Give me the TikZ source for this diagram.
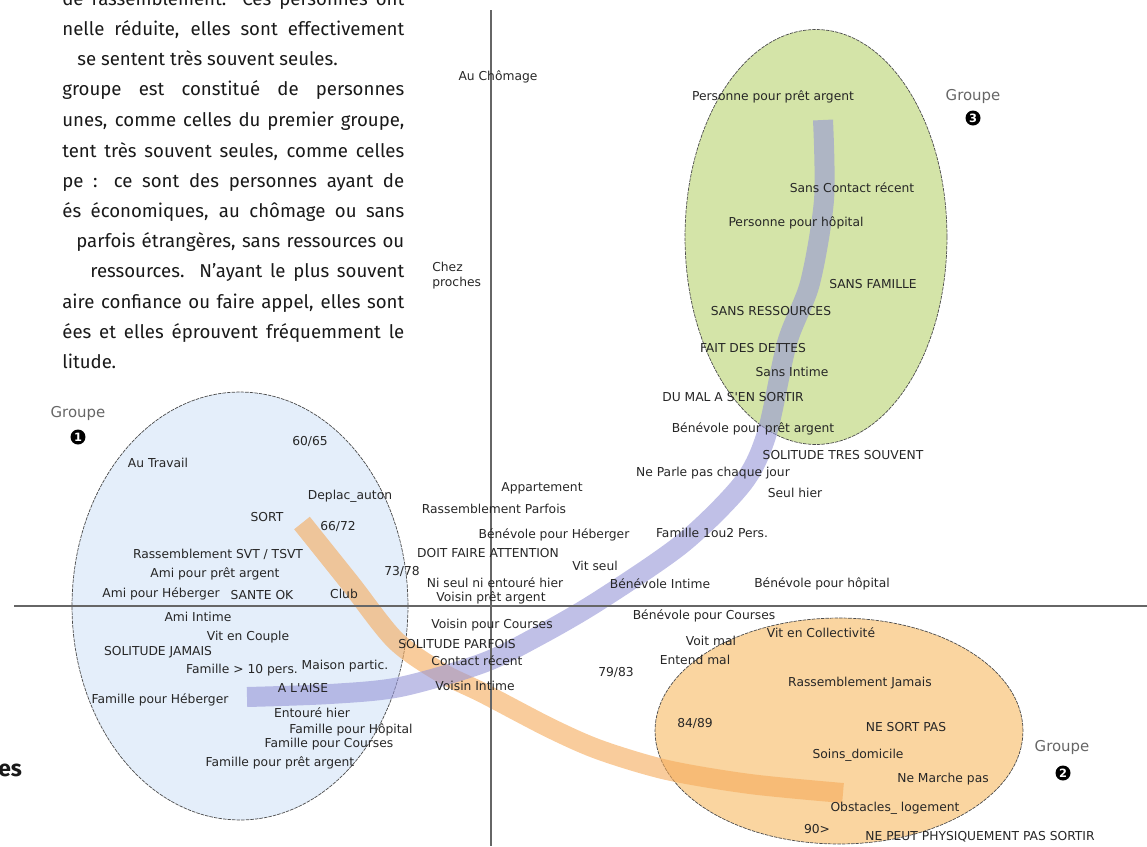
\documentclass[tikz,border=0pt]{standalone}
\usepackage{fontspec}
\newfontfamily\lblfont{DejaVu Sans}
\newfontfamily\txtfont{Fira Sans}
\usetikzlibrary{shapes.geometric}

\definecolor{bleuclair}{RGB}{228,238,250}
\definecolor{vertclair}{RGB}{212,228,168}
\definecolor{orangeclair}{RGB}{250,213,160}
\definecolor{bandeviolet}{RGB}{150,150,215}
\definecolor{bandeorange}{RGB}{245,170,90}

\begin{document}
\begin{tikzpicture}[x=0.02cm, y=-0.02cm,
    lbl/.style={font=\lblfont\fontsize{7}{8.5}\selectfont, text=black!85, inner sep=0pt},
    txt/.style={font=\txtfont\fontsize{10.6}{12}\selectfont, text=black!90, inner sep=0pt, anchor=base west},
    grp/.style={ellipse, draw=black!70, line width=0.4pt, dash pattern=on 2pt off 0.6pt, inner sep=0pt},
    band/.style={line width=0.4cm, opacity=0.6},
    axe/.style={draw=black!60, line width=1pt},
    titre/.style={font=\lblfont\fontsize{8.5}{10}\selectfont, text=black!60, inner sep=0pt},
    badge/.style={circle, fill=black, text=white, inner sep=0pt, minimum size=0.3cm,
        font=\lblfont\bfseries\fontsize{6.5}{6.5}\selectfont}]

    \useasboundingbox (0,0) rectangle (1147,846);

    % texte coupe a gauche
    \node[txt] (p0) at (62,5) {\makebox[6.84cm][s]{de rassemblement. Ces personnes ont}};
    \node[txt] (p1) at (62,35) {\makebox[6.84cm][s]{nelle réduite, elles sont effectivement}};
    \node[txt] (p2) at (77,65) {se sentent très souvent seules.};
    \node[txt] (p3) at (62,95) {\makebox[6.84cm][s]{groupe est constitué de personnes}};
    \node[txt] (p4) at (62,126) {\makebox[6.84cm][s]{unes, comme celles du premier groupe,}};
    \node[txt] (p5) at (62,157) {\makebox[6.84cm][s]{tent très souvent seules, comme celles}};
    \node[txt] (p6) at (62,187) {\makebox[6.84cm][s]{pe : ce sont des personnes ayant de}};
    \node[txt] (p7) at (62,217) {\makebox[6.84cm][s]{és économiques, au chômage ou sans}};
    \node[txt] (p8) at (76,247) {\makebox[6.56cm][s]{parfois étrangères, sans ressources ou}};
    \node[txt] (p9) at (90,277) {\makebox[6.28cm][s]{ressources. N’ayant le plus souvent}};
    \node[txt] (p10) at (62,308) {\makebox[6.84cm][s]{aire confiance ou faire appel, elles sont}};
    \node[txt] (p11) at (62,338) {\makebox[6.84cm][s]{ées et elles éprouvent fréquemment le}};
    \node[txt] (p12) at (62,368) {litude.};
    \node[txt, font=\txtfont\bfseries\fontsize{13}{15}\selectfont] (hd) at (-2,776) {es};

    % les trois groupes
    \node[grp, fill=bleuclair, minimum width=6.72cm, minimum height=8.56cm] (g1) at (240,606) {};
    \node[grp, fill=vertclair, minimum width=5.24cm, minimum height=8.3cm] (g3) at (816,237) {};
    \node[grp, fill=orangeclair, minimum width=7.36cm, minimum height=4.52cm] (g2) at (839,731) {};

    % bandes
    \draw[band, draw=bandeorange] plot[smooth] coordinates {(302,523) (350,583) (395,640) (440,672)
        (483,693) (550,728) (600,750) (667,770) (750,784) (843,793)};
    \draw[band, draw=bandeviolet] plot[smooth] coordinates {(247,697) (330,694) (400,687) (483,663)
        (540,635) (600,600) (683,543) (743,483) (767,433) (787,343) (810,283) (824,200) (823,120)};

    % axes
    \coordinate (ytop) at (491,10);
    \coordinate (ybot) at (491,846);
    \coordinate (xg) at (14,606);
    \coordinate (xd) at (1147,606);
    \draw[axe] (ytop) -- (ybot);
    \draw[axe] (xg) -- (xd);

    % titres des groupes
    \node[titre] (tg1) at (78,414) {Groupe};
    \node[badge] (b1) at (78,437) {1};
    \node[titre] (tg3) at (973,97) {Groupe};
    \node[badge] (b3) at (973,118) {3};
    \node[titre] (tg2) at (1062,748) {Groupe};
    \node[badge] (b2) at (1063,773) {2};

    % groupe 1
    \node[lbl] (trav) at (158,463) {Au Travail};
    \node[lbl] (a6065) at (310,441) {60/65};
    \node[lbl] (depl) at (350,496) {Deplac\_auton};
    \node[lbl] (sort) at (267,517) {SORT};
    \node[lbl] (a6672) at (338,526) {66/72};
    \node[lbl] (rsvt) at (218,554) {Rassemblement SVT / TSVT};
    \node[lbl] (amipret) at (215,574) {Ami pour prêt argent};
    \node[lbl] (amiheb) at (161,594) {Ami pour Héberger};
    \node[lbl] (sante) at (262,595) {SANTE OK};
    \node[lbl] (club) at (344,594) {Club};
    \node[lbl] (amiint) at (198,617) {Ami Intime};
    \node[lbl] (couple) at (248,637) {Vit en Couple};
    \node[lbl] (soljam) at (158,652) {SOLITUDE JAMAIS};
    \node[lbl] (fam10) at (242,670) {Famille > 10 pers.};
    \node[lbl] (maison) at (345,666) {Maison partic.};
    \node[lbl] (aise) at (303,688) {A L'AISE};
    \node[lbl] (famheb) at (160,700) {Famille pour Héberger};
    \node[lbl] (entoure) at (312,713) {Entouré hier};
    \node[lbl] (famhop) at (351,730) {Famille pour Hôpital};
    \node[lbl] (famcour) at (329,744) {Famille pour Courses};
    \node[lbl] (fampret) at (280,763) {Famille pour prêt argent};

    % centre
    \node[lbl] (chom) at (498,77) {Au Chômage};
    \node[lbl, align=left, anchor=west] (chez) at (432,276) {Chez\\proches};
    \node[lbl] (appart) at (542,488) {Appartement};
    \node[lbl] (rparf) at (494,509) {Rassemblement Parfois};
    \node[lbl] (benheb) at (554,535) {Bénévole pour Héberger};
    \node[lbl] (doit) at (488,553) {DOIT FAIRE ATTENTION};
    \node[lbl] (vitseul) at (595,566) {Vit seul};
    \node[lbl] (a7378) at (402,571) {73/78};
    \node[lbl] (niseul) at (495,583) {Ni seul ni entouré hier};
    \node[lbl] (voipret) at (491,598) {Voisin prêt argent};
    \node[lbl] (voicour) at (492,625) {Voisin pour Courses};
    \node[lbl] (solparf) at (457,644) {SOLITUDE PARFOIS};
    \node[lbl] (contact) at (477,661) {Contact récent};
    \node[lbl] (voiint) at (475,686) {Voisin Intime};
    \node[lbl] (a7983) at (616,672) {79/83};

    % groupe 3
    \node[lbl] (perspret) at (773,97) {Personne pour prêt argent};
    \node[lbl] (sanscont) at (852,188) {Sans Contact récent};
    \node[lbl] (pershop) at (796,223) {Personne pour hôpital};
    \node[lbl] (sansfam) at (873,284) {SANS FAMILLE};
    \node[lbl] (sansres) at (771,311) {SANS RESSOURCES};
    \node[lbl] (dettes) at (753,348) {FAIT DES DETTES};
    \node[lbl] (sansint) at (792,372) {Sans Intime};
    \node[lbl] (dumal) at (733,397) {DU MAL A S'EN SORTIR};
    \node[lbl] (benpret) at (753,429) {Bénévole pour prêt argent};
    \node[lbl] (soltres) at (843,455) {SOLITUDE TRES SOUVENT};
    \node[lbl] (parle) at (713,473) {Ne Parle pas chaque jour};
    \node[lbl] (seulhier) at (795,493) {Seul hier};
    \node[lbl] (fam12) at (712,533) {Famille 1ou2 Pers.};
    \node[lbl] (benint) at (660,584) {Bénévole Intime};
    \node[lbl] (benhop) at (822,584) {Bénévole pour hôpital};

    % groupe 2
    \node[lbl] (bencour) at (704,616) {Bénévole pour Courses};
    \node[lbl] (voit) at (711,641) {Voit mal};
    \node[lbl] (collect) at (821,633) {Vit en Collectivité};
    \node[lbl] (entend) at (695,660) {Entend mal};
    \node[lbl] (rjam) at (860,683) {Rassemblement Jamais};
    \node[lbl] (a8489) at (695,723) {84/89};
    \node[lbl] (nesort) at (906,727) {NE SORT PAS};
    \node[lbl] (soins) at (858,755) {Soins\_domicile};
    \node[lbl] (marche) at (943,779) {Ne Marche pas};
    \node[lbl] (obst) at (895,808) {Obstacles\_ logement};
    \node[lbl] (a90) at (817,829) {90>};
    \node[lbl] (nepeut) at (980,837) {NE PEUT PHYSIQUEMENT PAS SORTIR};

\end{tikzpicture}
\end{document}
